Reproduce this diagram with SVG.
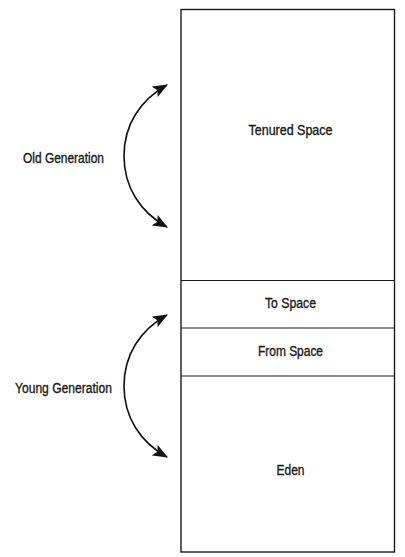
<svg xmlns="http://www.w3.org/2000/svg" width="405" height="557" viewBox="0 0 405 557">
<style>
.box{fill:#fff;stroke:#1a1a1a;stroke-width:1.4}
.div{stroke:#1a1a1a;stroke-width:1.2}
.t{font-family:"Liberation Sans",Arial,sans-serif;font-size:14px;fill:#1a1a1a;stroke:#1a1a1a;stroke-width:0.35;text-anchor:middle}
.arc{fill:none;stroke:#111;stroke-width:1.6}
</style>
<defs>
<marker id="ah" markerUnits="userSpaceOnUse" markerWidth="16" markerHeight="12" refX="14" refY="6" orient="auto">
<path d="M0,0 L15,6 L0,12 L3,6 Z" fill="#111"/>
</marker>
</defs>
<rect width="405" height="557" fill="#fff"/>
<g id="heap">
<rect class="box" x="181" y="9.5" width="213.5" height="542.5"/>
</g>
<g id="tenured">
<text class="t" x="290.5" y="135" textLength="84" lengthAdjust="spacingAndGlyphs">Tenured Space</text>
</g>
<g id="to-space">
<line class="div" x1="181" y1="280.5" x2="394.5" y2="280.5"/>
<text class="t" x="290.5" y="308" textLength="51" lengthAdjust="spacingAndGlyphs">To Space</text>
</g>
<g id="from-space">
<line class="div" x1="181" y1="328" x2="394.5" y2="328"/>
<text class="t" x="290.5" y="356" textLength="65" lengthAdjust="spacingAndGlyphs">From Space</text>
</g>
<g id="eden">
<line class="div" x1="181" y1="376" x2="394.5" y2="376"/>
<text class="t" x="290.5" y="475" textLength="28" lengthAdjust="spacingAndGlyphs">Eden</text>
</g>
<g id="old-generation">
<text class="t" x="63.5" y="163" textLength="81" lengthAdjust="spacingAndGlyphs">Old Generation</text>
</g>
<g id="young-generation">
<text class="t" x="63.5" y="393" textLength="97" lengthAdjust="spacingAndGlyphs">Young Generation</text>
</g>
<g id="connectors">
<path class="arc" d="M124,156 C124,125 140,100 167,85" marker-end="url(#ah)"/>
<path class="arc" d="M124,156 C124,187 140,212 167,227" marker-end="url(#ah)"/>
<path class="arc" d="M124,386 C124,355 140,330 167,315" marker-end="url(#ah)"/>
<path class="arc" d="M124,386 C124,417 140,442 167,457" marker-end="url(#ah)"/>
</g>
</svg>
